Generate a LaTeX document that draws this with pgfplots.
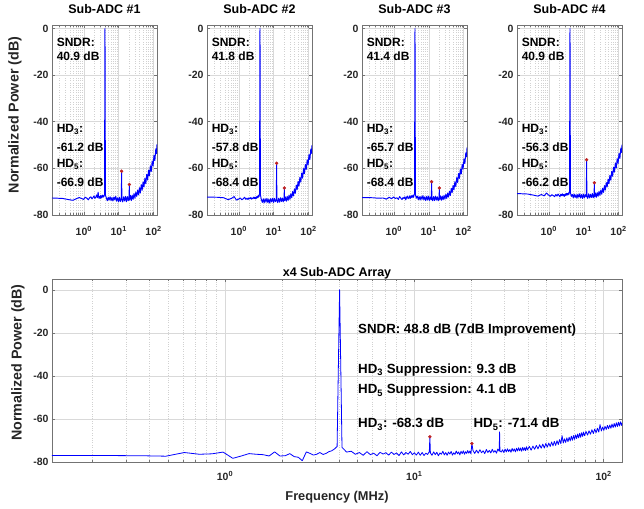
\documentclass[border=0pt]{standalone}
\usepackage{fontspec}
\setmainfont{Liberation Sans}
\usepackage{pgfplots}
\pgfplotsset{compat=1.18}

\definecolor{trace}{RGB}{0,0,255}
\definecolor{spur}{RGB}{190,35,35}
\definecolor{axgray}{RGB}{115,115,115}

\tikzset{
  intxt/.style={anchor=base west, inner sep=0pt, font=\fontsize{12}{14}\selectfont\bfseries},
  bigtxt/.style={anchor=base west, inner sep=0pt, font=\fontsize{13.3}{15}\selectfont\bfseries},
  fftline/.style={color=trace, line width=0.95pt, line join=round},
}
\pgfplotsset{
  every axis/.append style={
    scale only axis, anchor=south west,
    xtick={1,10,100},
    xticklabels={10\textsuperscript{0},10\textsuperscript{1},10\textsuperscript{2}},
    minor xtick={0.2,0.3,0.4,0.5,0.6,0.7,0.8,0.9,2,3,4,5,6,7,8,9,20,30,40,50,60,70,80,90},
    ytick={-80,-60,-40,-20,0},
    yticklabels={-80,-60,-40,-20,0},
    grid=both,
    major grid style={black!15, line width=0.5pt},
    minor grid style={black!18, dotted, line width=0.5pt},
    axis line style={axgray, line width=0.6pt},
    tick style={axgray, line width=0.5pt},
    tick align=inside,
    major tick length=3pt, minor tick length=1.8pt,
    ticklabel style={font=\fontsize{10.5}{12}\selectfont\bfseries, text=black!85},
    title style={font=\fontsize{12.5}{14}\selectfont\bfseries},
    xlabel style={font=\fontsize{12.8}{14}\selectfont\bfseries, text=black!85},
    ylabel style={font=\fontsize{14.3}{16}\selectfont\bfseries, text=black!85},
  },
}

\begin{document}
\begin{tikzpicture}
\path[use as bounding box] (0,0) rectangle (644pt,508pt);

% ---------------- Sub-ADC #1
\begin{axis}[xmode=log, xmin=0.122, xmax=125, ymin=-80, ymax=1.5,
  width=105pt, height=190pt, at={(52pt,293pt)},
  xticklabel style={yshift=-8pt},
  title={Sub-ADC \#1}, title style={yshift=2pt},
  ylabel={Normalized Power (dB)},
  ylabel style={at={(axis description cs:-0.352,0.526)}, anchor=center}]
\addplot[fftline] coordinates {
(0.122,-72.7) (0.244,-72.9) (0.366,-73.4) (0.488,-73.7) (0.610,-73.0) (0.732,-72.5) (0.854,-72.9) (0.977,-73.3)
(1.10,-72.4) (1.22,-72.8) (1.34,-73.5) (1.46,-72.6) (1.59,-72.2) (1.71,-73.1) (1.83,-72.5) (1.95,-71.8)
(2.08,-72.9) (2.20,-72.3) (2.32,-71.4) (2.44,-72.6) (2.56,-70.2) (2.69,-72.8) (2.81,-72.0) (2.93,-72.9)
(3.05,-71.6) (3.17,-72.7) (3.30,-72.1) (3.42,-71.5) (3.54,-72.4) (3.66,-71.7) (3.78,-72.0) (3.91,-71.2)
(4.03,0)
(4.15,-71.5) (4.4,-72.6) (4.7,-73.9) (5.0,-72.4) (5.3,-73.6) (5.65,-72.2) (6.0,-73.8) (6.4,-72.5)
(6.8,-74.0) (7.25,-72.3) (7.7,-73.5) (8.2,-72.0) (8.75,-74.1) (9.3,-72.6) (9.9,-74.3) (10.5,-72.4)
(11.2,-74.2) (11.85,-72.9) (12.08,-61.2) (12.3,-73.1) (13.0,-74.4) (13.8,-72.2) (14.7,-74.0) (15.6,-72.0)
(16.6,-74.3) (17.6,-72.1) (18.7,-73.9) (19.8,-71.8) (20.14,-66.9) (20.5,-73.6) (21.6,-71.6) (22.9,-73.8)
(24.3,-71.5) (25.8,-73.3) (27.4,-70.8) (29.1,-72.8) (30.9,-70.2) (32.8,-72.0) (34.8,-69.3) (36.9,-71.4)
(39.2,-68.3) (41.6,-70.6) (44.2,-67.0) (46.9,-69.4) (49.8,-65.8) (52.9,-68.0) (56.2,-64.2) (59.7,-66.6)
(63.4,-62.6) (67.3,-65.0) (71.5,-60.8) (75.9,-63.2) (80.6,-58.9) (85.6,-61.3) (90.9,-56.8) (96.5,-59.0)
(102.5,-54.4) (108.8,-56.6) (115.5,-51.6) (122.7,-53.7) (125.0,-49.6)
};
\addplot[only marks, mark=*, mark size=1.5pt, color=spur] coordinates {(12.08,-61.2) (20.14,-66.9)};
\node[intxt] at (axis cs:0.165,-7.6) {SNDR:};
\node[intxt] at (axis cs:0.165,-13.9) {40.9 dB};
\node[intxt] at (axis cs:0.165,-44.5) {HD\textsubscript{3}:};
\node[intxt] at (axis cs:0.165,-52.6) {-61.2 dB};
\node[intxt] at (axis cs:0.165,-59.7) {HD\textsubscript{5}:};
\node[intxt] at (axis cs:0.165,-67.6) {-66.9 dB};
\end{axis}

% ---------------- Sub-ADC #2
\begin{axis}[xmode=log, xmin=0.122, xmax=125, ymin=-80, ymax=1.5,
  width=105pt, height=190pt, at={(207pt,293pt)},
  xticklabel style={yshift=-8pt},
  title={Sub-ADC \#2}, title style={yshift=2pt}]
\addplot[fftline] coordinates {
(0.122,-72.3) (0.244,-72.4) (0.366,-72.6) (0.488,-73.4) (0.610,-72.9) (0.732,-72.1) (0.854,-73.6) (0.977,-73.2)
(1.10,-72.7) (1.22,-73.5) (1.34,-73.0) (1.46,-72.4) (1.59,-73.3) (1.71,-72.8) (1.83,-73.4) (1.95,-72.6)
(2.08,-73.1) (2.20,-72.5) (2.32,-73.2) (2.44,-72.7) (2.56,-73.0) (2.69,-72.3) (2.81,-72.9) (2.93,-72.4)
(3.05,-73.1) (3.17,-72.2) (3.30,-72.8) (3.42,-71.9) (3.54,-72.5) (3.66,-71.6) (3.78,-72.1) (3.91,-71.0)
(4.03,0)
(4.15,-71.4) (4.4,-73.3) (4.7,-74.6) (5.0,-73.1) (5.3,-74.8) (5.65,-73.0) (6.0,-74.5) (6.4,-72.9)
(6.8,-74.7) (7.25,-73.2) (7.7,-74.9) (8.2,-73.0) (8.75,-74.4) (9.3,-72.8) (9.9,-74.6) (10.5,-72.9)
(11.2,-74.3) (11.85,-73.4) (12.08,-57.8) (12.3,-73.6) (13.0,-74.7) (13.8,-72.8) (14.7,-74.5) (15.6,-72.6)
(16.6,-74.2) (17.6,-72.7) (18.7,-74.4) (19.8,-72.5) (20.14,-68.4) (20.5,-73.9) (21.6,-72.3) (22.9,-74.1)
(24.3,-72.0) (25.8,-73.8) (27.4,-71.5) (29.1,-73.3) (30.9,-70.9) (32.8,-72.6) (34.8,-69.9) (36.9,-71.8)
(39.2,-68.8) (41.6,-70.7) (44.2,-67.2) (46.9,-69.1) (49.8,-65.6) (52.9,-67.6) (56.2,-63.8) (59.7,-65.9)
(63.4,-62.0) (67.3,-64.2) (71.5,-60.1) (75.9,-62.3) (80.6,-58.3) (85.6,-60.4) (90.9,-56.3) (96.5,-58.5)
(102.5,-54.1) (108.8,-56.2) (115.5,-51.7) (122.7,-53.6) (125.0,-50.0)
};
\addplot[only marks, mark=*, mark size=1.5pt, color=spur] coordinates {(12.08,-57.8) (20.14,-68.4)};
\node[intxt] at (axis cs:0.165,-7.6) {SNDR:};
\node[intxt] at (axis cs:0.165,-13.9) {41.8 dB};
\node[intxt] at (axis cs:0.165,-44.5) {HD\textsubscript{3}:};
\node[intxt] at (axis cs:0.165,-52.6) {-57.8 dB};
\node[intxt] at (axis cs:0.165,-59.7) {HD\textsubscript{5}:};
\node[intxt] at (axis cs:0.165,-67.6) {-68.4 dB};
\end{axis}

% ---------------- Sub-ADC #3
\begin{axis}[xmode=log, xmin=0.122, xmax=125, ymin=-80, ymax=1.5,
  width=105pt, height=190pt, at={(362pt,293pt)},
  xticklabel style={yshift=-8pt},
  title={Sub-ADC \#3}, title style={yshift=2pt}]
\addplot[fftline] coordinates {
(0.122,-72.5) (0.244,-72.6) (0.366,-72.8) (0.488,-72.7) (0.610,-73.2) (0.732,-72.4) (0.854,-73.0) (0.977,-72.3)
(1.10,-72.9) (1.22,-72.6) (1.34,-73.3) (1.46,-72.1) (1.59,-72.8) (1.71,-73.4) (1.83,-72.5) (1.95,-72.9)
(2.08,-72.2) (2.20,-73.5) (2.32,-72.4) (2.44,-71.9) (2.56,-73.0) (2.69,-72.6) (2.81,-71.8) (2.93,-72.9)
(3.05,-72.3) (3.17,-71.7) (3.30,-72.6) (3.42,-72.0) (3.54,-71.5) (3.66,-72.4) (3.78,-71.6) (3.91,-70.9)
(4.03,0)
(4.15,-71.2) (4.4,-72.8) (4.7,-71.9) (5.0,-73.4) (5.3,-72.1) (5.65,-73.6) (6.0,-72.0) (6.4,-73.3)
(6.8,-71.7) (7.25,-73.5) (7.7,-72.2) (8.2,-73.8) (8.75,-72.0) (9.3,-73.6) (9.9,-71.9) (10.5,-73.7)
(11.2,-72.3) (11.85,-73.5) (12.08,-65.7) (12.3,-72.4) (13.0,-73.9) (13.8,-72.1) (14.7,-73.8) (15.6,-71.9)
(16.6,-73.6) (17.6,-72.2) (18.7,-73.9) (19.8,-72.3) (20.14,-68.4) (20.5,-73.4) (21.6,-71.8) (22.9,-73.7)
(24.3,-71.9) (25.8,-73.5) (27.4,-71.6) (29.1,-73.2) (30.9,-71.1) (32.8,-72.9) (34.8,-70.6) (36.9,-72.3)
(39.2,-69.8) (41.6,-71.6) (44.2,-68.6) (46.9,-70.4) (49.8,-67.3) (52.9,-69.2) (56.2,-65.7) (59.7,-67.8)
(63.4,-64.0) (67.3,-66.1) (71.5,-62.2) (75.9,-64.3) (80.6,-60.3) (85.6,-62.4) (90.9,-58.2) (96.5,-60.3)
(102.5,-55.9) (108.8,-57.9) (115.5,-53.3) (122.7,-55.1) (125.0,-51.0)
};
\addplot[only marks, mark=*, mark size=1.5pt, color=spur] coordinates {(12.08,-65.7) (20.14,-68.4)};
\node[intxt] at (axis cs:0.165,-7.6) {SNDR:};
\node[intxt] at (axis cs:0.165,-13.9) {41.4 dB};
\node[intxt] at (axis cs:0.165,-44.5) {HD\textsubscript{3}:};
\node[intxt] at (axis cs:0.165,-52.6) {-65.7 dB};
\node[intxt] at (axis cs:0.165,-59.7) {HD\textsubscript{5}:};
\node[intxt] at (axis cs:0.165,-67.6) {-68.4 dB};
\end{axis}

% ---------------- Sub-ADC #4
\begin{axis}[xmode=log, xmin=0.122, xmax=125, ymin=-80, ymax=1.5,
  width=105pt, height=190pt, at={(517pt,293pt)},
  xticklabel style={yshift=-8pt},
  title={Sub-ADC \#4}, title style={yshift=2pt}]
\addplot[fftline] coordinates {
(0.122,-70.8) (0.244,-71.0) (0.366,-71.5) (0.488,-71.9) (0.610,-71.2) (0.732,-71.8) (0.854,-70.6) (0.977,-71.4)
(1.10,-72.0) (1.22,-71.3) (1.34,-71.7) (1.46,-72.1) (1.59,-71.2) (1.71,-71.9) (1.83,-71.0) (1.95,-71.6)
(2.08,-72.2) (2.20,-71.1) (2.32,-71.7) (2.44,-70.9) (2.56,-71.8) (2.69,-71.2) (2.81,-72.0) (2.93,-71.0)
(3.05,-71.6) (3.17,-70.7) (3.30,-71.5) (3.42,-70.8) (3.54,-71.4) (3.66,-70.5) (3.78,-71.1) (3.91,-69.8)
(4.03,0)
(4.15,-70.4) (4.4,-72.0) (4.7,-71.2) (5.0,-72.6) (5.3,-71.0) (5.65,-72.5) (6.0,-71.3) (6.4,-72.8)
(6.8,-71.1) (7.25,-72.4) (7.7,-70.9) (8.2,-72.7) (8.75,-71.2) (9.3,-72.9) (9.9,-71.0) (10.5,-72.6)
(11.2,-71.3) (11.85,-72.2) (12.08,-56.3) (12.3,-71.8) (13.0,-72.9) (13.8,-70.9) (14.7,-72.7) (15.6,-71.1)
(16.6,-72.5) (17.6,-70.8) (18.7,-72.6) (19.8,-70.9) (20.14,-66.2) (20.5,-72.3) (21.6,-70.6) (22.9,-72.4)
(24.3,-70.4) (25.8,-72.0) (27.4,-69.9) (29.1,-71.6) (30.9,-69.3) (32.8,-71.1) (34.8,-68.5) (36.9,-70.3)
(39.2,-67.4) (41.6,-69.3) (44.2,-66.1) (46.9,-68.0) (49.8,-64.6) (52.9,-66.6) (56.2,-63.0) (59.7,-65.1)
(63.4,-61.3) (67.3,-63.4) (71.5,-59.5) (75.9,-61.6) (80.6,-57.7) (85.6,-59.8) (90.9,-55.8) (96.5,-57.9)
(102.5,-53.6) (108.8,-55.7) (115.5,-51.3) (122.7,-53.2) (125.0,-49.8)
};
\addplot[only marks, mark=*, mark size=1.5pt, color=spur] coordinates {(12.08,-56.3) (20.14,-66.2)};
\node[intxt] at (axis cs:0.165,-7.6) {SNDR:};
\node[intxt] at (axis cs:0.165,-13.9) {40.9 dB};
\node[intxt] at (axis cs:0.165,-44.5) {HD\textsubscript{3}:};
\node[intxt] at (axis cs:0.165,-52.6) {-56.3 dB};
\node[intxt] at (axis cs:0.165,-59.7) {HD\textsubscript{5}:};
\node[intxt] at (axis cs:0.165,-67.6) {-66.2 dB};
\end{axis}

% ---------------- x4 array
\begin{axis}[xmode=log, xmin=0.122, xmax=125, ymin=-80, ymax=5,
  width=570pt, height=183pt, at={(52pt,46pt)},
  xticklabel style={yshift=-6pt},
  title={x4 Sub-ADC Array}, title style={yshift=-9.3pt},
  xlabel={Frequency (MHz)},
  xlabel style={at={(axis description cs:0.5,-0.191)}, anchor=center},
  ylabel={Normalized Power (dB)},
  ylabel style={at={(axis description cs:-0.0596,0.543)}, anchor=center}]
\addplot[fftline, line width=0.8pt] coordinates {
(0.122,-77.0) (0.244,-77.0) (0.366,-77.1) (0.488,-77.3) (0.610,-75.6) (0.732,-76.4) (0.854,-76.2) (0.977,-75.4)
(1.10,-78.3) (1.22,-77.2) (1.34,-76.1) (1.46,-76.4) (1.59,-76.6) (1.71,-77.2) (1.83,-75.3) (1.95,-77.2)
(2.08,-77.1) (2.20,-76.1) (2.32,-77.5) (2.44,-77.8) (2.56,-79.4) (2.69,-75.3) (2.81,-76.0) (2.93,-76.8)
(3.05,-76.4) (3.17,-75.6) (3.30,-76.5) (3.42,-76.0) (3.54,-75.2) (3.66,-74.8) (3.78,-74.0) (3.91,-72.8)
(4.03,0)
(4.15,-73.2) (4.39,-75.4) (4.64,-75.0) (4.88,-76.4) (5.13,-75.6) (5.37,-76.9) (5.62,-75.2) (5.86,-76.6)
(6.10,-75.9) (6.35,-77.1) (6.59,-75.5) (6.84,-76.3) (7.08,-75.7) (7.32,-76.8) (7.57,-75.4) (7.81,-76.5)
(8.06,-75.8) (8.30,-77.0) (8.55,-75.3) (8.79,-76.7) (9.03,-75.6) (9.28,-76.4) (9.52,-75.1) (9.77,-76.6)
(10.0,-75.7) (10.25,-76.8) (10.5,-75.4) (10.75,-76.9) (11.0,-75.6) (11.25,-77.0) (11.5,-75.9) (11.75,-76.5)
(12.0,-75.2) (12.08,-68.3) (12.16,-75.8) (12.4,-76.9) (12.65,-75.3) (12.9,-76.6) (13.15,-75.5) (13.4,-77.1)
(13.65,-75.8) (13.9,-76.4) (14.15,-75.0) (14.4,-76.7) (14.65,-75.6) (14.9,-76.9) (15.15,-75.4) (15.4,-76.3)
(15.65,-75.1) (15.9,-76.8) (16.15,-75.7) (16.4,-76.5) (16.65,-74.9) (16.9,-76.2) (17.15,-75.3) (17.4,-76.7)
(17.65,-75.0) (17.9,-76.1) (18.15,-74.8) (18.4,-76.4) (18.65,-75.2) (18.9,-76.0) (19.15,-74.7) (19.4,-75.9)
(19.65,-74.9) (19.9,-76.2) (20.14,-71.4) (20.4,-74.6) (20.85,-76.0) (21.3,-74.5) (21.75,-75.9) (22.2,-74.3)
(22.65,-75.7) (23.1,-74.8) (23.55,-76.1) (24.0,-74.2) (24.45,-75.6) (24.9,-74.6) (25.35,-75.8) (25.8,-74.1)
(26.25,-75.5) (26.7,-74.7) (27.15,-75.9) (27.6,-74.0) (28.08,-75.0) (28.2,-66.0) (28.32,-74.8) (28.8,-75.4)
(29.25,-74.3) (29.7,-75.6) (30.15,-74.0) (30.6,-75.3) (31.05,-73.9) (31.5,-75.2) (31.95,-74.2) (32.4,-75.5)
(32.85,-73.7) (33.3,-75.0) (33.75,-73.9) (34.2,-75.3) (34.65,-73.6) (35.1,-74.9) (35.55,-73.4) (36.0,-74.8)
(36.45,-73.5) (36.9,-75.0) (37.35,-73.2) (37.8,-74.6) (38.25,-73.4) (38.7,-74.7) (39.15,-72.9) (39.6,-74.4)
(40.5,-72.8) (41.4,-74.5) (42.3,-72.6) (43.2,-74.1) (44.1,-72.3) (45.0,-73.9) (45.9,-72.0) (46.8,-73.6)
(47.7,-71.7) (48.6,-73.5) (49.5,-71.4) (50.4,-73.1) (51.3,-71.2) (52.2,-72.8) (53.1,-70.7) (54.0,-72.5)
(54.9,-70.4) (55.8,-72.3) (56.7,-70.1) (57.6,-71.9) (58.5,-69.6) (59.4,-71.5) (60.3,-67.8) (61.2,-71.2)
(62.1,-69.2) (63.0,-70.9) (63.9,-68.8) (64.8,-70.6) (65.7,-68.5) (66.6,-70.2) (67.5,-68.0) (68.4,-69.9)
(69.3,-67.7) (70.2,-69.5) (71.1,-67.4) (72.0,-69.1) (72.9,-67.0) (73.8,-68.8) (74.7,-66.7) (75.6,-68.5)
(76.5,-66.4) (77.4,-68.1) (78.3,-66.1) (79.2,-67.8) (80.7,-65.8) (82.2,-67.5) (83.7,-65.5) (85.2,-67.1)
(86.7,-65.0) (88.2,-66.8) (89.7,-64.7) (91.2,-66.4) (92.7,-64.3) (94.2,-66.1) (95.7,-62.6) (97.2,-65.6)
(98.7,-63.8) (100.2,-65.3) (101.7,-63.4) (103.2,-64.9) (104.7,-63.0) (106.2,-64.6) (107.7,-62.8) (109.2,-64.3)
(110.7,-62.4) (112.2,-64.0) (113.7,-62.1) (115.2,-63.8) (116.7,-61.8) (118.2,-63.5) (119.7,-61.5) (121.2,-63.3)
(122.7,-61.3) (124.2,-63.0) (125.0,-61.8)
};
\addplot[only marks, mark=*, mark size=1.5pt, color=spur] coordinates {(12.08,-68.3) (20.14,-71.4)};
\node[bigtxt] at (axis cs:5.04,-20.4) {SNDR: 48.8 dB (7dB Improvement)};
\node[bigtxt] at (axis cs:5.04,-38.7) {HD\textsubscript{3} Suppression: 9.3 dB};
\node[bigtxt] at (axis cs:5.04,-48.4) {HD\textsubscript{5} Suppression: 4.1 dB};
\node[bigtxt] at (axis cs:5.04,-64.2) {HD\textsubscript{3}: -68.3 dB};
\node[bigtxt] at (axis cs:20.5,-64.2) {HD\textsubscript{5}: -71.4 dB};
\end{axis}
\end{tikzpicture}
\end{document}
